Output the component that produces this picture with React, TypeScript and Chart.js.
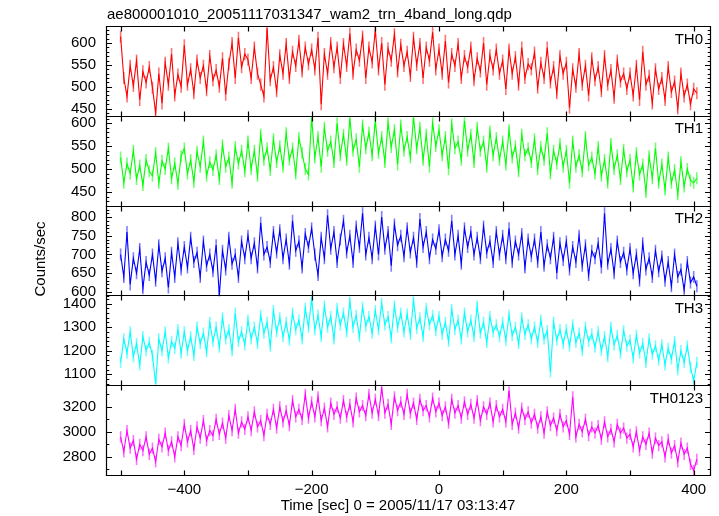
import React, { useEffect, useRef } from "react";
import { Chart, registerables } from "chart.js";

Chart.register(...registerables);

const TITLE = "ae800001010_20051117031347_wam2_trn_4band_long.qdp";
const X_TITLE = "Time [sec] 0 = 2005/11/17 03:13:47";
const Y_TITLE = "Counts/sec";

const T_START = -500;
const T_STEP = 5;

const BAND_NAMES = ["TH0", "TH1", "TH2", "TH3", "TH0123"];

const TH0 = [
  615, 520, 478, 548, 502, 560, 470, 535, 510, 545,
  498, 440, 530, 462, 555, 505, 575, 480, 528, 500,
  595, 505, 540, 485, 560, 520, 548, 492, 570, 515,
  538, 500, 565, 482, 552, 600, 520, 612, 545, 575,
  562, 520, 590, 530, 505, 478, 634, 515, 545, 490,
  572, 530, 598, 520, 580, 548, 605, 535, 590, 552,
  585, 540, 612, 460, 575, 530, 600, 545, 590, 520,
  598, 548, 622, 530, 585, 560, 615, 520, 590, 556,
  630, 540, 600, 505, 588, 560, 620, 535, 596, 548,
  580, 525, 612, 550, 598, 520, 590, 560, 625, 540,
  585, 530, 605, 510, 575, 548, 598, 520, 570, 545,
  590, 515, 565, 535, 600, 505, 572, 540, 585, 530,
  560, 495, 585, 530, 568, 505, 590, 520, 552, 540,
  578, 498, 555, 520, 590, 510, 545, 485, 570, 530,
  555, 452, 540, 500, 575, 505, 548, 480, 565, 515,
  545, 490, 570, 505, 538, 475, 560, 512, 530, 495,
  530, 480, 548, 470, 580, 505, 525, 462, 540, 495,
  520, 470, 545, 488, 512, 450, 530, 478, 505, 460,
  495, 485,
];

const TH1 = [
  525, 470, 512, 490, 540, 478, 508, 465, 520, 495,
  485, 535, 470, 518, 500, 545, 480, 512, 468, 528,
  545, 490, 520, 472, 538, 505, 560, 485, 515, 498,
  530, 478, 552, 505, 525, 470, 548, 512, 540, 495,
  560, 500, 540, 485, 575, 520, 545, 498, 565, 515,
  550, 505, 578, 520, 545, 490, 568, 535, 500, 488,
  612, 525, 570, 505, 590, 540, 560, 515, 600, 530,
  575, 520, 610, 540, 565, 505, 595, 545, 580, 530,
  605, 535, 570, 515, 600, 548, 585, 510, 595, 540,
  570, 525, 612, 545, 590, 520, 575, 505, 600, 550,
  585, 530, 570, 500, 598, 545, 560, 520, 605, 540,
  575, 515, 590, 540, 560, 505, 582, 530, 568, 520,
  560, 510, 585, 525, 550, 495, 575, 530, 545, 515,
  565, 500, 548, 520, 578, 490, 540, 512, 555, 505,
  540, 470, 560, 505, 530, 495, 570, 508, 525, 490,
  548, 485, 520, 470, 555, 500, 530, 478, 542, 495,
  520, 462, 535, 488, 510, 450, 528, 480, 545, 470,
  510, 455, 525, 470, 498, 445, 515, 462, 500, 475,
  470, 480,
];

const TH2 = [
  700, 640, 760, 620, 690, 650, 715, 610, 680, 645,
  700, 630, 725, 655, 690, 612, 705, 640, 730, 660,
  720, 665, 745, 680, 705, 640, 735, 670, 700, 655,
  725, 590, 710, 660, 745, 675, 700, 640, 735, 690,
  750, 690, 730, 665, 785, 700, 720, 680, 760, 705,
  765, 690, 740, 675, 790, 710, 735, 665, 755, 720,
  770, 700, 645, 745, 690, 805, 715, 760, 680, 740,
  790, 705, 750, 680, 775, 720, 810, 700, 745, 690,
  775, 700, 800, 715, 760, 670, 780, 725, 750, 695,
  770, 705, 745, 680, 795, 720, 760, 690, 740, 715,
  765, 695, 740, 710, 790, 700, 750, 675, 770, 720,
  760, 700, 745, 690, 775, 705, 735, 680, 760, 700,
  750, 690, 770, 680, 735, 700, 755, 665, 740, 695,
  740, 680, 760, 670, 725, 690, 745, 650, 730, 685,
  735, 660, 720, 680, 750, 670, 725, 645, 710, 690,
  730, 665, 810, 675, 715, 650, 735, 680, 705, 660,
  715, 650, 700, 630, 730, 660, 690, 640, 710, 655,
  695, 630, 680, 615, 700, 640, 660, 605, 680, 625,
  640, 615,
];

const TH3 = [
  1150, 1250, 1190, 1280, 1175, 1230, 1140, 1260, 1200, 1235,
  1180, 1060, 1250, 1200, 1280, 1170, 1240, 1210, 1290, 1190,
  1280, 1200, 1260, 1180, 1300, 1230, 1275, 1195, 1320, 1240,
  1300, 1215, 1340, 1250, 1290, 1200, 1360, 1240, 1280, 1225,
  1330, 1250, 1300, 1230, 1350, 1275, 1320, 1220, 1370, 1280,
  1340, 1260, 1320, 1245, 1360, 1290, 1330, 1250, 1380, 1300,
  1420, 1290, 1350, 1260, 1390, 1300, 1345, 1250, 1380, 1310,
  1360, 1280, 1410, 1300, 1350, 1260, 1385, 1305, 1345, 1275,
  1370, 1290, 1400, 1310, 1345, 1255, 1390, 1300, 1360, 1280,
  1355, 1270, 1415, 1295, 1340, 1260, 1380, 1310, 1350, 1285,
  1345, 1270, 1320, 1240, 1375, 1290, 1330, 1250, 1360, 1280,
  1330, 1260, 1390, 1275, 1320, 1235, 1345, 1280, 1310, 1260,
  1320, 1245, 1350, 1265, 1300, 1230, 1340, 1270, 1310, 1250,
  1300, 1235, 1330, 1250, 1285, 1110, 1320, 1245, 1290, 1230,
  1290, 1220, 1310, 1235, 1275, 1200, 1300, 1240, 1270, 1215,
  1280, 1200, 1260, 1175, 1300, 1225, 1265, 1190, 1285, 1220,
  1245, 1170, 1265, 1190, 1230, 1150, 1250, 1185, 1220, 1160,
  1225, 1140, 1210, 1165, 1240, 1120, 1200, 1150, 1220, 1130,
  1070, 1150,
];

const TH0123 = [
  2960, 2840, 3010, 2870, 2930, 2780, 2900, 2850, 2960, 2820,
  2870, 2760, 2940, 2880, 2990, 2850, 2920, 2800, 2960, 2890,
  3060, 2920, 3010, 2860, 3040, 2950, 3090, 2930, 3010, 2970,
  3100, 2980, 3070, 2950, 3130, 3010, 3180, 2990, 3080, 3020,
  3120, 3010, 3160, 3040, 3090, 2970, 3140, 3060, 3180, 3030,
  3200, 3080, 3170, 3050, 3250, 3120, 3180, 3100, 3300, 3110,
  3240, 3120, 3280, 3090, 3190, 3040, 3230, 3140, 3200, 3110,
  3250, 3120, 3220, 3080, 3270, 3160, 3210, 3130, 3300, 3150,
  3260, 3130, 3350, 3150, 3220, 3060, 3280, 3170, 3240, 3140,
  3300, 3150, 3230, 3100, 3260, 3170, 3210, 3120, 3270, 3160,
  3230, 3130, 3200, 3070, 3260, 3150, 3210, 3110, 3240, 3140,
  3220, 3110, 3250, 3090, 3200, 3140, 3230, 3080, 3210, 3120,
  3180, 3080, 3330, 3060, 3150, 3030, 3190, 3100, 3160, 3070,
  3140, 3030, 3120, 2990, 3160, 3050, 3110, 3010, 3140, 3040,
  3090, 2980, 3280, 2960, 3060, 3000, 3100, 2970, 3040, 2990,
  3050, 2940, 3080, 2960, 3020, 2920, 3060, 2990, 3030, 2950,
  2980, 2880, 3000, 2850, 2960, 2900, 2990, 2830, 2950, 2890,
  2920, 2800, 2940, 2830, 2890, 2760, 2910, 2820, 2870, 2740,
  2690, 2780,
];

const BAND_VALUES = [TH0, TH1, TH2, TH3, TH0123];
const BAND_ERRORS = [14, 13, 16, 24, 45];

const Y_MIN = [431, 418, 588, 1049, 2646];
const Y_MAX = [637, 614, 828, 1431, 3365];
const Y_MAJOR_TICKS = [
  [450, 500, 550, 600],
  [450, 500, 550, 600],
  [600, 650, 700, 750, 800],
  [1100, 1200, 1300, 1400],
  [2800, 3000, 3200],
];
const Y_MINOR_STEP = [10, 10, 10, 20, 100];

const X_MIN = -521.4;
const X_MAX = 427.2;
const X_LABEL_TICKS = [-400, -200, 0, 200, 400];
const X_TICK_MARKS = [-500, -400, -300, -200, -100, 0, 100, 200, 300, 400];

const LINE_COLORS = ["#ff0000", "#00ff00", "#0000ff", "#00ffff", "#ff00ff"];
const ERR_COLORS = [
  "rgba(255,0,0,0.55)",
  "rgba(0,255,0,0.55)",
  "rgba(0,0,255,0.5)",
  "rgba(0,255,255,0.55)",
  "rgba(255,0,255,0.55)",
];

const FONT = "'Liberation Sans', Arial, Helvetica, sans-serif";
const FONT_SIZE = 15;

const TIMES = TH0.map((_, i) => T_START + T_STEP * i);

const errorBarPlugin = {
  id: "errorBars",
  beforeDatasetsDraw(chart: any) {
    const ctx = chart.ctx;
    const xs = chart.scales.x;
    const area = chart.chartArea;
    BAND_VALUES.forEach((vals, i) => {
      const ys = chart.scales["y" + i];
      ctx.save();
      ctx.beginPath();
      ctx.rect(area.left, ys.top, area.right - area.left, ys.bottom - ys.top);
      ctx.clip();
      ctx.strokeStyle = ERR_COLORS[i];
      ctx.lineWidth = 1.6;
      ctx.beginPath();
      vals.forEach((v, j) => {
        const px = xs.getPixelForValue(TIMES[j]);
        ctx.moveTo(px, ys.getPixelForValue(v - BAND_ERRORS[i]));
        ctx.lineTo(px, ys.getPixelForValue(v + BAND_ERRORS[i]));
      });
      ctx.stroke();
      ctx.restore();
    });
  },
};

const framePlugin = {
  id: "frames",
  afterDraw(chart: any) {
    const ctx = chart.ctx;
    const xs = chart.scales.x;
    const area = chart.chartArea;
    const L = Math.round(area.left) - 0.5;
    const R = Math.round(area.right) - 0.5;
    ctx.save();
    ctx.strokeStyle = "#000";
    ctx.lineWidth = 1.2;
    BAND_VALUES.forEach((_, i) => {
      const ys = chart.scales["y" + i];
      const T = Math.round(ys.top) - 0.5;
      const B = Math.round(ys.bottom) - 0.5;
      ctx.beginPath();
      ctx.rect(L, T, R - L, B - T);
      X_TICK_MARKS.forEach((t) => {
        const px = Math.round(xs.getPixelForValue(t)) + 0.5;
        ctx.moveTo(px, T);
        ctx.lineTo(px, T + 5);
        ctx.moveTo(px, B);
        ctx.lineTo(px, B - 5);
      });
      const step = Y_MINOR_STEP[i];
      for (let v = Math.ceil(Y_MIN[i] / step) * step; v <= Y_MAX[i]; v += step) {
        const len = Y_MAJOR_TICKS[i].includes(v) ? 5.5 : 2.8;
        const py = Math.round(ys.getPixelForValue(v)) + 0.5;
        ctx.moveTo(L, py);
        ctx.lineTo(L + len, py);
        ctx.moveTo(R, py);
        ctx.lineTo(R - len, py);
      }
      ctx.stroke();
    });
    ctx.fillStyle = "#000";
    ctx.font = `${FONT_SIZE}px ${FONT}`;
    ctx.textBaseline = "middle";
    ctx.textAlign = "left";
    ctx.fillText(TITLE, area.left, 15);
    ctx.textAlign = "center";
    ctx.fillText(X_TITLE, 398, 505.5);
    ctx.textAlign = "right";
    BAND_NAMES.forEach((name, i) => {
      const ys = chart.scales["y" + i];
      ctx.fillText(name, area.right - 8, ys.top + 12.5);
    });
    ctx.save();
    ctx.translate(41, 259);
    ctx.rotate(-Math.PI / 2);
    ctx.textAlign = "center";
    ctx.fillText(Y_TITLE, 0, 0);
    ctx.restore();
    ctx.restore();
  },
};

export default function App() {
  const ref = useRef<HTMLCanvasElement | null>(null);

  useEffect(() => {
    if (!ref.current) return;
    document.body.style.margin = "0";
    const scales: any = {
      x: {
        type: "linear",
        min: X_MIN,
        max: X_MAX,
        grid: { display: false, drawTicks: false },
        border: { display: false },
        afterBuildTicks: (s: any) => {
          s.ticks = X_LABEL_TICKS.map((v) => ({ value: v }));
        },
        afterFit: (s: any) => {
          s.height = 40;
        },
        ticks: {
          autoSkip: false,
          maxRotation: 0,
          padding: 5,
          color: "#000",
          font: { family: FONT, size: FONT_SIZE },
          callback: (v: any) => (v < 0 ? "\u2212" + Math.abs(v) : String(v)),
        },
      },
    };
    for (let i = BAND_VALUES.length - 1; i >= 0; i--) {
      scales["y" + i] = {
        type: "linear",
        position: "left",
        stack: "panels",
        stackWeight: 1,
        offset: false,
        min: Y_MIN[i],
        max: Y_MAX[i],
        grid: { display: false, drawTicks: false },
        border: { display: false },
        afterBuildTicks: (s: any) => {
          s.ticks = Y_MAJOR_TICKS[i].map((v) => ({ value: v }));
        },
        afterFit: (s: any) => {
          s.width = 107;
        },
        ticks: {
          autoSkip: false,
          padding: 11,
          color: "#000",
          font: { family: FONT, size: FONT_SIZE },
          callback: (v: any) => String(v),
        },
      };
    }
    const chart = new Chart(ref.current, {
      type: "line",
      data: {
        datasets: BAND_VALUES.map((vals, i) => ({
          label: BAND_NAMES[i],
          data: vals.map((v, j) => ({ x: TIMES[j], y: v })),
          yAxisID: "y" + i,
          borderColor: LINE_COLORS[i],
          backgroundColor: LINE_COLORS[i],
          borderWidth: 1.1,
          pointRadius: 0,
          tension: 0,
          fill: false,
        })),
      },
      options: {
        animation: false,
        responsive: false,
        devicePixelRatio: 1,
        layout: { padding: { left: 0, right: 8, top: 27, bottom: 0 } },
        plugins: { legend: { display: false }, tooltip: { enabled: false }, title: { display: false } },
        events: [],
        scales,
      } as any,
      plugins: [errorBarPlugin, framePlugin],
    });
    return () => chart.destroy();
  }, []);

  return (
    <div style={{ position: "absolute", left: 0, top: 0, width: 719, height: 516, background: "#fff" }}>
      <canvas ref={ref} width={719} height={516} />
    </div>
  );
}
